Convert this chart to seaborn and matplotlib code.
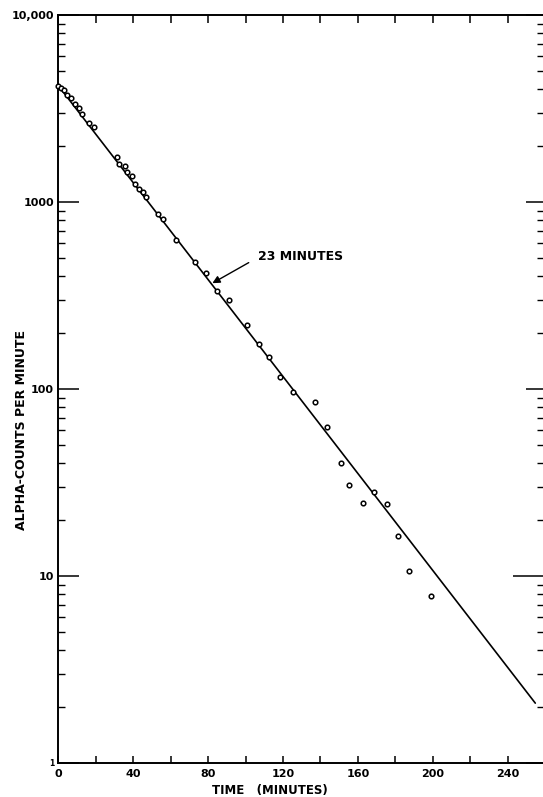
import numpy as np
import pandas as pd
import matplotlib
matplotlib.use("Agg")
import matplotlib.pyplot as plt
from matplotlib.ticker import FixedLocator, NullFormatter, FixedFormatter
import seaborn as sns

# ---- data ----
time_min = [0, 1.4, 2.9, 4.5, 6.8, 8.9, 11.1, 12.5, 16.6, 19.2,
            31.2, 32.6, 35.5, 36.7, 39.4, 41.0, 43.3, 45.1, 47.0, 53.1,
            56.1, 63.0, 73.0, 78.9, 84.9, 91.3, 100.6, 107.1, 112.4, 118.4,
            125.5, 137.0, 143.4, 151.0, 155.4, 162.9, 168.6, 175.4, 181.5,
            187.5, 198.9]
counts = [4190, 4055, 3970, 3750, 3610, 3340, 3170, 2940, 2650, 2510,
          1750, 1590, 1560, 1450, 1370, 1250, 1180, 1135, 1060, 860,
          810, 626, 476, 419, 336, 299, 219, 173, 149, 116,
          96, 85.5, 63, 40, 30.5, 24.5, 28.1, 24.3, 16.4,
          10.7, 7.85]

fit_time = [0, 254.8]
fit_counts = [4190, 2.09]

x_major = [0, 40, 80, 120, 160, 200, 240]
x_minor = [20, 60, 100, 140, 180, 220]
y_major = [1, 10, 100, 1000, 10000]
y_major_labels = ["1", "10", "100", "1000", "10,000"]

annot_text = "23 MINUTES"
annot_tip = (82.3, 368)
annot_text_pos = (106.7, 514)

xlabel = "TIME   (MINUTES)"
ylabel = "ALPHA-COUNTS PER MINUTE"

# ---- style ----
sns.set_style("white")
plt.rcParams["font.family"] = ["DejaVu Sans"]
plt.rcParams["font.weight"] = "bold"
for k in ["text.color", "axes.labelcolor", "xtick.color", "ytick.color"]:
    plt.rcParams[k] = "black"

W, H = 543, 797
fig = plt.figure(figsize=(W / 100, H / 100), dpi=100)
left, right, top, bottom = 58.3, 543, 15, 763
ax = fig.add_axes([left / W, 1 - bottom / H, (right - left) / W, (bottom - top) / H])

pts = pd.DataFrame({"time": time_min, "counts": counts})
fit = pd.DataFrame({"time": fit_time, "counts": fit_counts})

sns.lineplot(data=fit, x="time", y="counts", ax=ax, color="black", lw=1.2)
sns.scatterplot(data=pts, x="time", y="counts", ax=ax, s=11, marker="o",
                facecolor="white", edgecolor="black", linewidth=1.1,
                clip_on=False, zorder=3)

ax.set_yscale("log")
ax.set_xlim(0, (right - left) / 1.872)
ax.set_ylim(1, 10000)

# spines
for s in ["left", "bottom", "top"]:
    ax.spines[s].set_visible(True)
    ax.spines[s].set_linewidth(1.4)
    ax.spines[s].set_color("black")
ax.spines["right"].set_visible(False)

# x ticks
ax.xaxis.set_major_locator(FixedLocator(x_major))
ax.xaxis.set_minor_locator(FixedLocator(x_minor))
ax.xaxis.set_minor_formatter(NullFormatter())
ax.tick_params(axis="x", which="both", direction="in", top=True, bottom=True,
               length=5.4, width=1.1, color="black", pad=4, labelsize=8)

# y ticks (left)
ax.yaxis.set_major_locator(FixedLocator(y_major))
ax.yaxis.set_major_formatter(FixedFormatter(y_major_labels))
minor_y = [m * 10 ** e for e in range(0, 4) for m in range(2, 10)]
ax.yaxis.set_minor_locator(FixedLocator(minor_y))
ax.yaxis.set_minor_formatter(NullFormatter())
ax.tick_params(axis="y", which="major", direction="in", left=True, right=False,
               length=15, width=1.1, color="black", pad=3, labelsize=8)
ax.tick_params(axis="y", which="minor", direction="in", left=True, right=False,
               length=5, width=1.0, color="black")
for lab in ax.get_yticklabels():
    if lab.get_text() == "1":
        lab.set_fontsize(5.5)

# right-side ticks via twin axis
ax2 = ax.twinx()
ax2.set_yscale("log")
ax2.set_ylim(1, 10000)
for s in ["right", "left", "top", "bottom"]:
    ax2.spines[s].set_visible(False)
ax2.yaxis.set_major_locator(FixedLocator(y_major))
ax2.yaxis.set_minor_locator(FixedLocator(minor_y))
ax2.yaxis.set_major_formatter(NullFormatter())
ax2.yaxis.set_minor_formatter(NullFormatter())
ax2.tick_params(axis="y", which="major", direction="in", right=True, left=False,
                length=12, width=1.1, color="black", labelright=False)
ax2.tick_params(axis="y", which="minor", direction="in", right=True, left=False,
                length=4, width=1.0, color="black")
ticks = ax2.yaxis.get_major_ticks()
if len(ticks) > 1:
    ticks[1].tick2line.set_markersize(21.6)

# labels
ax.set_xlabel(xlabel, fontsize=8.5, fontweight="bold")
ax.set_ylabel(ylabel, fontsize=9, fontweight="bold")
ax.xaxis.set_label_coords((270 - left) / (right - left), (bottom - 784) / (bottom - top))
ax.yaxis.set_label_coords((28 - left) / (right - left), (bottom - 430) / (bottom - top))

# annotation
ax.annotate(annot_text, xy=annot_tip, xytext=annot_text_pos,
            textcoords="data", ha="left", va="center",
            fontsize=9, fontweight="bold",
            arrowprops=dict(arrowstyle="-|>", color="black", lw=1.0,
                            mutation_scale=11, shrinkA=5, shrinkB=0,
                            relpos=(0, 0.4)))

fig.savefig("out.png", dpi=100, facecolor="white")
